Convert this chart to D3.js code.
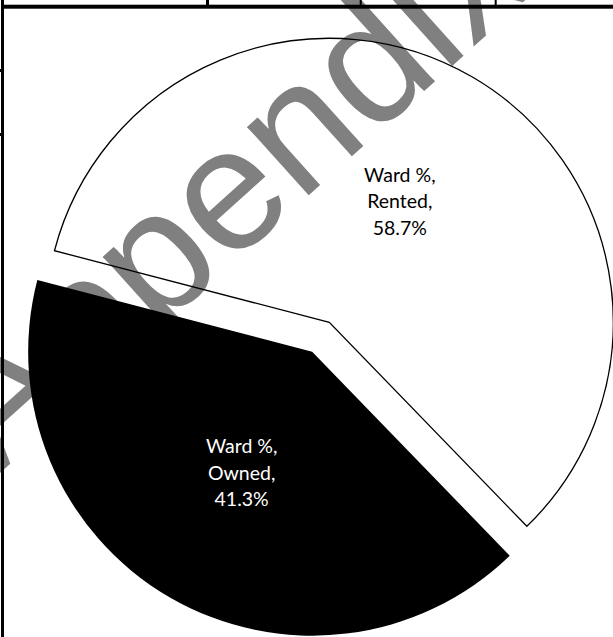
<!DOCTYPE html>
<html>
<head>
<meta charset="utf-8">
<script src="https://cdn.jsdelivr.net/npm/d3@7"></script>
<style>
  html, body { margin: 0; padding: 0; background: #ffffff; }
  svg { display: block; }
</style>
</head>
<body>
<svg id="chart" width="613" height="637"></svg>
<script>
// ---- data ----
const seriesName = "Ward %";
const categories = ["Rented", "Owned"];
const values = [58.7, 41.3];
const valueLabels = ["58.7%", "41.3%"];
const exploded = [false, true];
const watermarkText = "Appendix";

// ---- layout ----
const W = 613, H = 637;
const cx = 329.3, cy = 322.3, R = 284;
const startDeg = -75.4;
const explodeDist = 34;
const labelR = 140;

const svg = d3.select("#chart");
svg.append("rect").attr("width", W).attr("height", H).attr("fill", "#ffffff");

// ---- watermark placement, fitted from measured glyph metrics ----
const wmFont = "'Liberation Sans', Arial, sans-serif";
const wmAngle = -42;
const targetP = [163, 263];   // centre of second "p" bowl
const targetD = [370, 20];    // point on "d" stem
const targetI = [425, 22];    // point on "i" stem
const ctx = document.createElement("canvas").getContext("2d");
ctx.font = `100px ${wmFont}`;
const adv = s => ctx.measureText(s).width;
const ink = s => { const m = ctx.measureText(s); return [-m.actualBoundingBoxLeft, m.actualBoundingBoxRight, m.actualBoundingBoxAscent]; };
const pInk = ink("p"), dInk = ink("d"), iInk = ink("i"), xInk = ink("x");
const aP = adv("Ap") + pInk[0] + 0.52 * (pInk[1] - pInk[0]);
const aD = adv("Appen") + dInk[1] - 4.2;
const aI = adv("Append") + (iInk[0] + iInk[1]) / 2;
const xh = xInk[2];
const rad = wmAngle * Math.PI / 180;
const b = [Math.cos(rad), Math.sin(rad)], u = [Math.sin(rad), -Math.cos(rad)];
const dot = (v, w) => v[0] * w[0] + v[1] * w[1];
const tD = dot([targetD[0] - targetP[0], targetD[1] - targetP[1]], b);
const tI = dot([targetI[0] - targetP[0], targetI[1] - targetP[1]], b);
const kD = (aD - aP) / 100, kI = (aI - aP) / 100;
let F = (tD * kD + tI * kI) / (kD * kD + kI * kI);
if (!isFinite(F) || F < 120 || F > 230) F = 176;
const s = F / 100;
const Sx = targetP[0] - aP * s * b[0] - (xh * s / 2) * u[0];
const Sy = targetP[1] - aP * s * b[1] - (xh * s / 2) * u[1];

svg.append("text")
  .attr("transform", `translate(${Sx},${Sy}) rotate(${wmAngle})`)
  .attr("font-family", wmFont)
  .attr("font-size", F)
  .attr("fill", "#808080")
  .text(watermarkText);

// table borders
const lines = svg.append("g").attr("fill", "#000");
lines.append("rect").attr("x", 1).attr("y", 4.7).attr("width", W).attr("height", 4);
lines.append("rect").attr("x", 1).attr("y", 0).attr("width", 3).attr("height", H);
lines.append("rect").attr("x", 206).attr("y", 0).attr("width", 3).attr("height", 6);
lines.append("rect").attr("x", 359.7).attr("y", 0).attr("width", 2).attr("height", 6);
lines.append("rect").attr("x", 494.7).attr("y", 0).attr("width", 2).attr("height", 6);
lines.append("rect").attr("x", 0).attr("y", 69).attr("width", 3).attr("height", 3);
lines.append("rect").attr("x", 0).attr("y", 133).attr("width", 3).attr("height", 3);

// pie
const toRad = d => d * Math.PI / 180;
const pie = d3.pie().sort(null)
  .startAngle(toRad(startDeg))
  .endAngle(toRad(startDeg + 360));
const arcs = pie(values);
const arc = d3.arc().innerRadius(0).outerRadius(R);

const g = svg.append("g").attr("transform", `translate(${cx},${cy})`);

const slices = g.selectAll("g.slice").data(arcs).join("g")
  .attr("class", "slice")
  .attr("transform", (d, i) => {
    if (!exploded[i]) return null;
    const mid = (d.startAngle + d.endAngle) / 2;
    return `translate(${Math.sin(mid) * explodeDist},${-Math.cos(mid) * explodeDist})`;
  });

slices.append("path")
  .attr("d", arc)
  .attr("fill", (d, i) => i === 0 ? "none" : "#000000")
  .attr("stroke", (d, i) => i === 0 ? "#000000" : "none")
  .attr("stroke-width", 1.3)
  .attr("stroke-linejoin", "miter");

const fontSize = 19.5, lineH = 26.4, capHalf = 7;
slices.each(function (d, i) {
  const mid = (d.startAngle + d.endAngle) / 2;
  const lx = Math.sin(mid) * labelR, ly = -Math.cos(mid) * labelR;
  const t = d3.select(this).append("text")
    .attr("font-family", "Lato, 'Open Sans', sans-serif")
    .attr("font-size", fontSize)
    .attr("text-anchor", "middle")
    .attr("fill", i === 0 ? "#000000" : "#ffffff");
  const rows = [seriesName + ",", categories[i] + ",", valueLabels[i]];
  rows.forEach((r, k) => {
    t.append("tspan").attr("x", lx).attr("y", ly + capHalf + (k - 1) * lineH).text(r);
  });
});
</script>
</body>
</html>
